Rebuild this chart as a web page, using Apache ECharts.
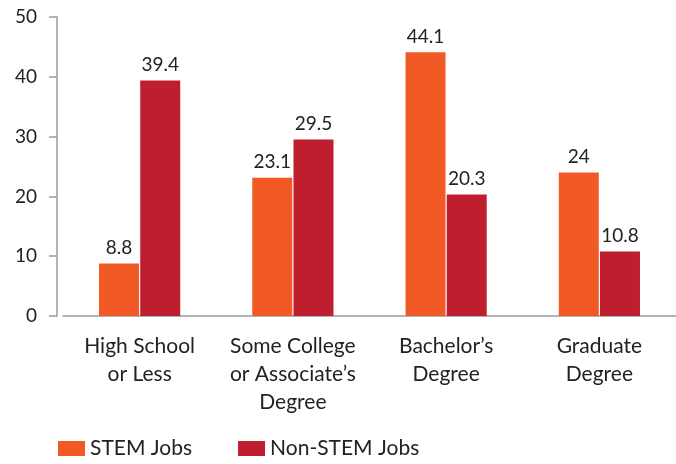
<!DOCTYPE html>
<html>
<head>
<meta charset="utf-8">
<script src="https://cdn.jsdelivr.net/npm/echarts@6/dist/echarts.min.js"></script>
<style>
  html, body { margin: 0; padding: 0; background: #fff; }
  #container { width: 676px; height: 464px; }
</style>
</head>
<body>
<div id="container"></div>
<script>
var categories = ['High School\nor Less', 'Some College\nor Associate\u2019s\nDegree', 'Bachelor\u2019s\nDegree', 'Graduate\nDegree'];
var stemJobs = [8.8, 23.1, 44.1, 24];
var nonStemJobs = [39.4, 29.5, 20.3, 10.8];
var seriesNames = ['STEM Jobs', 'Non-STEM Jobs'];

var myChart = echarts.init(document.getElementById('container'));
var font = 'Lato, "Open Sans", sans-serif';

var option = {
    animation: false,
    textStyle: { fontFamily: font },
    grid: { left: 63, top: 17, width: 618, bottom: 148, containLabel: false },
    legend: {
        left: 53,
        bottom: 0,
        itemWidth: 27,
        itemHeight: 15,
        itemGap: 46,
        icon: 'rect',
        textStyle: { fontSize: 21, color: '#222', fontFamily: font, padding: [0, 0, 0, 0] },
        data: seriesNames
    },
    xAxis: {
        type: 'category',
        data: categories,
        axisLine: { lineStyle: { color: '#9a9a9a', width: 1.5 } },
        axisTick: { show: false },
        axisLabel: { color: '#222', fontSize: 21, lineHeight: 28, margin: 16, interval: 0, fontFamily: font }
    },
    yAxis: {
        type: 'value',
        min: 0,
        max: 50,
        interval: 10,
        offset: 6,
        splitLine: { show: false },
        axisLine: { show: true, lineStyle: { color: '#9a9a9a', width: 1.5 } },
        axisTick: { show: true, length: 8, lineStyle: { color: '#9a9a9a', width: 1.5 } },
        axisLabel: { color: '#222', fontSize: 19, margin: 20, fontFamily: font }
    },
    series: [
        {
            name: seriesNames[0],
            type: 'bar',
            data: stemJobs,
            barWidth: 40,
            barGap: '3%',
            itemStyle: { color: '#F15A24' },
            label: { show: true, position: 'top', distance: 6, color: '#222', fontSize: 19, fontFamily: font }
        },
        {
            name: seriesNames[1],
            type: 'bar',
            data: nonStemJobs,
            barWidth: 40,
            itemStyle: { color: '#BE1E2D' },
            label: { show: true, position: 'top', distance: 6, color: '#222', fontSize: 19, fontFamily: font }
        }
    ]
};
myChart.setOption(option);
</script>
</body>
</html>
